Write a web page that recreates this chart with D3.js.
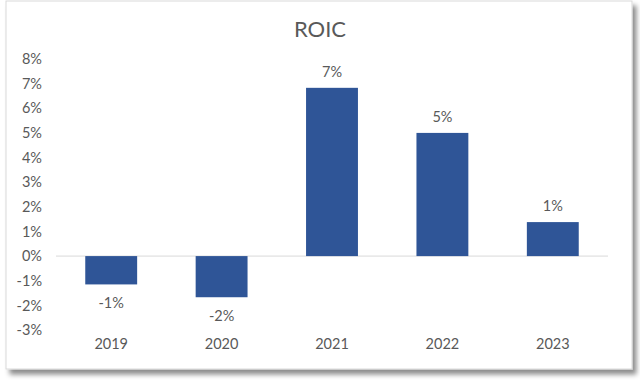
<!DOCTYPE html>
<html><head><meta charset="utf-8">
<script src="https://cdn.jsdelivr.net/npm/d3@7"></script>
<style>html,body{margin:0;padding:0;background:#fff;}svg{display:block;}</style>
</head><body>
<svg id="c" width="640" height="384"></svg>
<script>
const title = "ROIC";
const categories = ["2019","2020","2021","2022","2023"];
const values = [-1.15, -1.67, 6.83, 5.0, 1.38];
const yTicks = [-3,-2,-1,0,1,2,3,4,5,6,7,8];

const svg = d3.select("#c");
const defs = svg.append("defs");
const f = defs.append("filter").attr("id","sh").attr("x","-5%").attr("y","-5%").attr("width","115%").attr("height","115%");
f.append("feDropShadow").attr("dx",4).attr("dy",5).attr("stdDeviation",2.5).attr("flood-color","#000").attr("flood-opacity",0.45);

svg.append("rect").attr("x",6).attr("y",1).attr("width",626).attr("height",368)
  .attr("fill","#fff").attr("stroke","#d9d9d9").attr("stroke-width",1).attr("filter","url(#sh)");

const font = "Lato, 'Open Sans', sans-serif";
const col = "#595959";

const x = d3.scaleBand().domain(categories).range([56,608]).paddingInner(0.53).paddingOuter(0.265);
const y = d3.scaleLinear().domain([-3,8]).range([330,59]);

svg.append("text").attr("x",320).attr("y",37).attr("text-anchor","middle")
  .attr("font-family",font).attr("font-size",22).attr("fill",col).text(title);

const yAxis = d3.axisLeft(y).tickValues(yTicks).tickFormat(d=>d+"%").tickSize(0).tickPadding(0);
const ga = svg.append("g").attr("transform","translate(42,0)").call(yAxis);
ga.select(".domain").remove();
ga.selectAll("text").attr("font-family",font).attr("font-size",14.5).attr("fill",col);

svg.append("line").attr("x1",56).attr("x2",608).attr("y1",y(0)).attr("y2",y(0))
  .attr("stroke","#d9d9d9").attr("stroke-width",1);

svg.selectAll("rect.bar").data(values).enter().append("rect").attr("class","bar")
  .attr("x",(d,i)=>x(categories[i])).attr("width",x.bandwidth())
  .attr("y",d=>y(Math.max(0,d))).attr("height",d=>Math.abs(y(d)-y(0)))
  .attr("fill","#2F5597");

svg.selectAll("text.lbl").data(values).enter().append("text").attr("class","lbl")
  .attr("x",(d,i)=>x(categories[i])+x.bandwidth()/2)
  .attr("y",d=> d>=0 ? y(d)-11 : y(d)+24)
  .attr("text-anchor","middle").attr("font-family",font).attr("font-size",14.5).attr("fill",col)
  .text(d=>Math.round(d)+"%");

const xAxis = d3.axisBottom(x).tickSize(0).tickPadding(0);
const gx = svg.append("g").attr("transform","translate(0,339)").call(xAxis);
gx.select(".domain").remove();
gx.selectAll("text").attr("font-family",font).attr("font-size",14.5).attr("fill",col);
</script>
</body></html>
